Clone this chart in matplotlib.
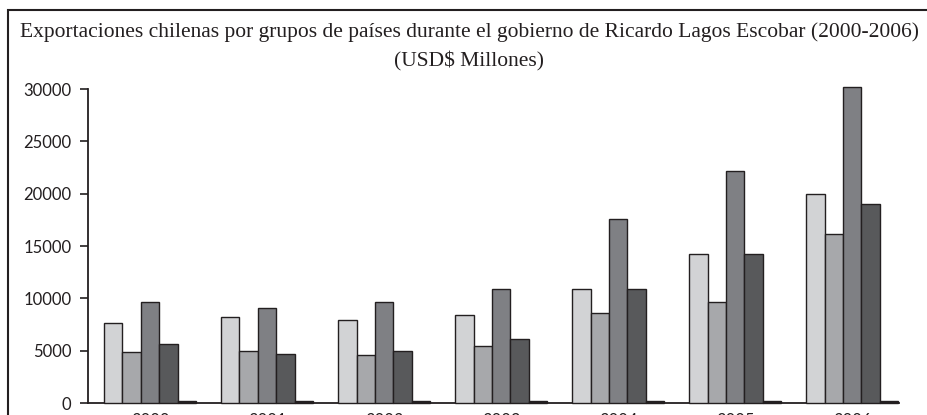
import matplotlib
matplotlib.use("Agg")
import matplotlib.pyplot as plt
from matplotlib.patches import Rectangle
import numpy as np

years = ["2000", "2001", "2002", "2003", "2004", "2005", "2006"]
serie_1 = [7600, 8190, 7900, 8380, 10890, 14200, 19930]
serie_2 = [4900, 5000, 4610, 5440, 8630, 9680, 16110]
serie_3 = [9650, 9070, 9620, 10860, 17570, 22130, 30180]
serie_4 = [5600, 4650, 4990, 6110, 10890, 14200, 19040]
serie_5 = [150, 150, 150, 150, 150, 150, 150]
yticks = [0, 5000, 10000, 15000, 20000, 25000, 30000]

series = [serie_1, serie_2, serie_3, serie_4, serie_5]
colors = ["#d2d3d5", "#a7a8ab", "#7f8084", "#58595b", "#231f20"]

W, H = 927, 415
fig = plt.figure(figsize=(W / 100, H / 100), dpi=100)
ax = fig.add_axes([88 / W, 12 / H, 811 / W, 314 / H])

x = np.arange(len(years))
bw = 0.157
for k, (vals, c) in enumerate(zip(series, colors)):
    ax.bar(x + (k - 2) * bw, vals, width=bw, color=c, edgecolor="#231f20",
           linewidth=1.0, clip_on=False, zorder=3)

ax.set_xlim(-0.53, 6.4)
ax.set_ylim(0, 30000)
ax.set_yticks(yticks)
ax.set_yticklabels([str(v) for v in yticks], fontsize=12, family="Lato", color="#231f20")
ax.set_xticks(x)
ax.set_xticklabels(years, fontsize=12, family="Lato", color="#231f20")
ax.tick_params(axis="x", length=0, pad=7)
ax.tick_params(axis="y", direction="out", length=6, width=1.2, color="#231f20", pad=6)
for s in ["top", "right"]:
    ax.spines[s].set_visible(False)
for s in ["left", "bottom"]:
    ax.spines[s].set_color("#231f20")
    ax.spines[s].set_linewidth(1.3)

# outer frame
fig.patches.append(Rectangle((8 / W, -0.1), 1.2, 1 - 10 / H + 0.1, transform=fig.transFigure,
                             fill=False, edgecolor="#231f20", linewidth=1.5))

fig.text(469 / W, 1 - 32 / H, "Exportaciones chilenas por grupos de países durante el gobierno de Ricardo Lagos Escobar (2000-2006)",
         ha="center", va="center", fontsize=15.5, family="Liberation Serif", color="#231f20")
fig.text(469 / W, 1 - 61 / H, "(USD$ Millones)",
         ha="center", va="center", fontsize=15.5, family="Liberation Serif", color="#231f20")

fig.savefig("out.png", dpi=100)
